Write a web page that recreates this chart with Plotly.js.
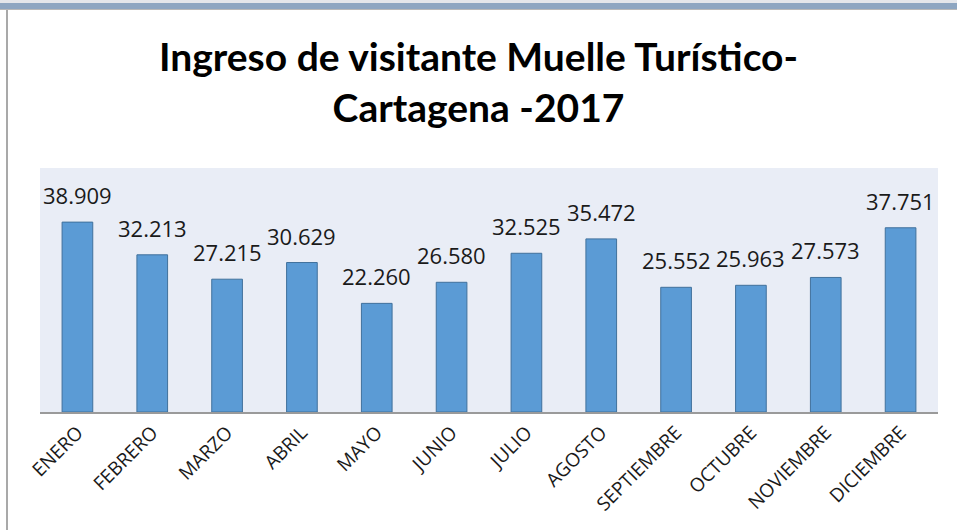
<!DOCTYPE html>
<html>
<head>
<meta charset="utf-8">
<script src="https://cdn.plot.ly/plotly-3.0.1.min.js"></script>
<style>
  body { margin: 0; background: #fff; }
  #wrap { position: relative; width: 957px; height: 530px; overflow: hidden; }
  #plot { position: absolute; left: 0; top: 0; width: 957px; height: 530px; }
  .band1 { position: absolute; left: 0; top: 0; width: 957px; height: 3px; background: #e4e6ea; }
  .band2 { position: absolute; left: 0; top: 3px; width: 957px; height: 6px; background: #8ea6c1; }
  .band3 { position: absolute; left: 0; top: 9px; width: 957px; height: 1px; background: #b8b8b8; }
  .lside { position: absolute; left: 6px; top: 10px; width: 2px; height: 520px; background: #a9a9a9; }
</style>
</head>
<body>
<div id="wrap">
  <div id="plot"></div>
  <div class="band1"></div>
  <div class="band2"></div>
  <div class="band3"></div>
  <div class="lside"></div>
</div>
<script>
var meses = ['ENERO', 'FEBRERO', 'MARZO', 'ABRIL', 'MAYO', 'JUNIO', 'JULIO',
             'AGOSTO', 'SEPTIEMBRE', 'OCTUBRE', 'NOVIEMBRE', 'DICIEMBRE'];
var visitantes = [38909, 32213, 27215, 30629, 22260, 26580, 32525,
                  35472, 25552, 25963, 27573, 37751];

function miles(v) {
  var r = String(v % 1000);
  while (r.length < 3) r = '0' + r;
  return Math.floor(v / 1000) + '.' + r;
}

var barras = {
  x: meses,
  y: visitantes,
  type: 'bar',
  width: 0.41,
  marker: { color: '#5b9bd5', line: { color: '#41719c', width: 1 } },
  hoverinfo: 'x+y'
};

var etiquetas = meses.map(function (m, i) {
  return {
    x: m, y: visitantes[i], xref: 'x', yref: 'y',
    text: miles(visitantes[i]),
    showarrow: false, yanchor: 'middle', yshift: 27,
    font: { family: 'Open Sans', size: 22, color: '#1a1a1a' }
  };
});

var layout = {
  width: 957,
  height: 530,
  margin: { l: 40, r: 19, t: 168, b: 118 },
  paper_bgcolor: '#ffffff',
  plot_bgcolor: '#e9edf6',
  title: {
    text: '<b>Ingreso de visitante Muelle Turístico-<br>Cartagena -2017</b>',
    font: { family: 'Lato', size: 39, color: '#000000' },
    x: 0.5, xanchor: 'center', y: 0.866, yanchor: 'middle'
  },
  xaxis: {
    type: 'category',
    range: [-0.5, 11.5],
    tickangle: -45,
    tickfont: { family: 'Open Sans', size: 19, color: '#1a1a1a' },
    showline: true, linecolor: '#9a9a9a', linewidth: 2,
    showgrid: false, ticks: ''
  },
  yaxis: {
    range: [0, 50000],
    visible: false,
    showgrid: false, zeroline: false
  },
  annotations: etiquetas,
  showlegend: false,
  bargap: 0.59
};

Plotly.newPlot('plot', [barras], layout, { displayModeBar: false });
</script>
</body>
</html>
